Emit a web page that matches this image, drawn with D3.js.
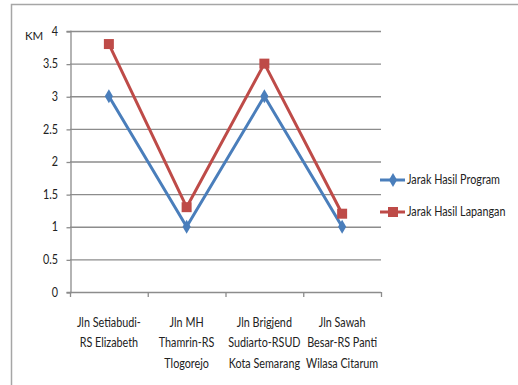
<!DOCTYPE html>
<html>
<head>
<meta charset="utf-8">
<script src="https://cdn.jsdelivr.net/npm/d3@7"></script>
<style>
  html, body { margin: 0; padding: 0; background: #fff; }
  svg { display: block; }
  text { font-family: Lato, "Open Sans", sans-serif; fill: #222; }
</style>
</head>
<body>
<svg id="chart" width="518" height="385"></svg>
<script>
// Route labels (multi-line)
const categories = [
  ["Jln Setiabudi-", "RS Elizabeth"],
  ["Jln MH", "Thamrin-RS", "Tlogorejo"],
  ["Jln Brigjend", "Sudiarto-RSUD", "Kota Semarang"],
  ["Jln Sawah", "Besar-RS Panti", "Wilasa Citarum"]
];
const seriesNames = ["Jarak Hasil Program", "Jarak Hasil Lapangan"];
const jarakProgram = [3, 1, 3, 1];
const jarakLapangan = [3.8, 1.3, 3.5, 1.2];
const yTicks = [0, 0.5, 1, 1.5, 2, 2.5, 3, 3.5, 4];
const yUnit = "KM";

const colors = ["#4a7ebb", "#be4b48"];
const series = [
  { name: seriesNames[0], values: jarakProgram, color: colors[0], marker: "diamond" },
  { name: seriesNames[1], values: jarakLapangan, color: colors[1], marker: "square" }
];

// narrow look for all labels: horizontal squeeze around an anchor x
const SQ = 0.83;
const squeeze = ax => `translate(${ax},0) scale(${SQ},1)`;

const svg = d3.select("#chart");

// outer chart frame
svg.append("rect")
  .attr("x", 11.5).attr("y", 4.5)
  .attr("width", 530).attr("height", 400)
  .attr("fill", "none").attr("stroke", "#a6a6a6").attr("stroke-width", 1.5);

const plot = { left: 70, right: 381, top: 31, bottom: 292 };

const x = d3.scaleBand()
  .domain(d3.range(categories.length))
  .range([plot.left, plot.right]);

const y = d3.scaleLinear()
  .domain([0, 4])
  .range([plot.bottom, plot.top]);

// horizontal gridlines
svg.append("g")
  .selectAll("line")
  .data(yTicks.filter(d => d > 0))
  .join("line")
  .attr("x1", plot.left).attr("x2", plot.right)
  .attr("y1", d => y(d) + 0.5).attr("y2", d => y(d) + 0.5)
  .attr("stroke", "#8c8c8c").attr("stroke-width", 1.3);

// y axis
const yAxis = svg.append("g")
  .attr("transform", `translate(${plot.left + 0.5},0)`)
  .call(d3.axisLeft(y).tickValues(yTicks).tickSize(4).tickPadding(7).tickFormat(d3.format("")));
yAxis.select(".domain").attr("stroke", "#8c8c8c").attr("stroke-width", 1.3);
yAxis.selectAll(".tick line").attr("stroke", "#8c8c8c").attr("stroke-width", 1.3)
  .attr("transform", "translate(0,0.5)");
yAxis.selectAll(".tick text")
  .attr("font-size", 13)
  .attr("font-family", "Lato, 'Open Sans', sans-serif")
  .attr("fill", "#222")
  .attr("x", 0)
  .attr("transform", squeeze(-12.5));

// x axis with boundary ticks
const xAxisG = svg.append("g");
xAxisG.append("line")
  .attr("x1", plot.left).attr("x2", plot.right)
  .attr("y1", plot.bottom + 0.5).attr("y2", plot.bottom + 0.5)
  .attr("stroke", "#8c8c8c").attr("stroke-width", 1.3);
const boundaries = d3.range(categories.length + 1).map(i =>
  i < categories.length ? x(i) : x(i - 1) + x.bandwidth());
xAxisG.selectAll("line.tick")
  .data(boundaries)
  .join("line").attr("class", "tick")
  .attr("x1", d => d + 0.5).attr("x2", d => d + 0.5)
  .attr("y1", plot.bottom).attr("y2", plot.bottom + 5)
  .attr("stroke", "#8c8c8c").attr("stroke-width", 1.3);

// category labels
const lab = xAxisG.selectAll("text.cat")
  .data(categories)
  .join("text").attr("class", "cat")
  .attr("text-anchor", "middle")
  .attr("font-size", 13)
  .attr("transform", (d, i) => squeeze(x(i) + x.bandwidth() / 2));
lab.selectAll("tspan")
  .data(d => d)
  .join("tspan")
  .attr("x", 0)
  .attr("y", (d, j) => 327 + j * 20.5)
  .text(d => d);

// unit label
svg.append("text")
  .attr("x", 25).attr("y", 40)
  .attr("font-size", 11.5)
  .text(yUnit);

// marker shapes
const sym = {
  diamond: d3.symbol().type(d3.symbolDiamond).size(58),
  square: d3.symbol().type(d3.symbolSquare).size(100)
};

const line = d3.line()
  .x((d, i) => x(i) + x.bandwidth() / 2)
  .y(d => y(d));

series.forEach(s => {
  const g = svg.append("g");
  g.append("path")
    .attr("d", line(s.values))
    .attr("fill", "none").attr("stroke", s.color)
    .attr("stroke-width", 3).attr("stroke-linejoin", "round");
  g.selectAll("path.m")
    .data(s.values)
    .join("path").attr("class", "m")
    .attr("d", sym[s.marker])
    .attr("transform", (d, i) => `translate(${x(i) + x.bandwidth() / 2},${y(d)})`)
    .attr("fill", s.color);
});

// legend
const legend = svg.append("g");
series.forEach((s, i) => {
  const ly = 180 + i * 32;
  legend.append("line")
    .attr("x1", 380).attr("x2", 405)
    .attr("y1", ly).attr("y2", ly)
    .attr("stroke", s.color).attr("stroke-width", 3);
  legend.append("path")
    .attr("d", sym[s.marker])
    .attr("transform", `translate(393,${ly})`)
    .attr("fill", s.color);
  legend.append("text")
    .attr("x", 0).attr("y", ly + 4.5)
    .attr("transform", squeeze(407))
    .attr("font-size", 13)
    .text(s.name);
});
</script>
</body>
</html>
